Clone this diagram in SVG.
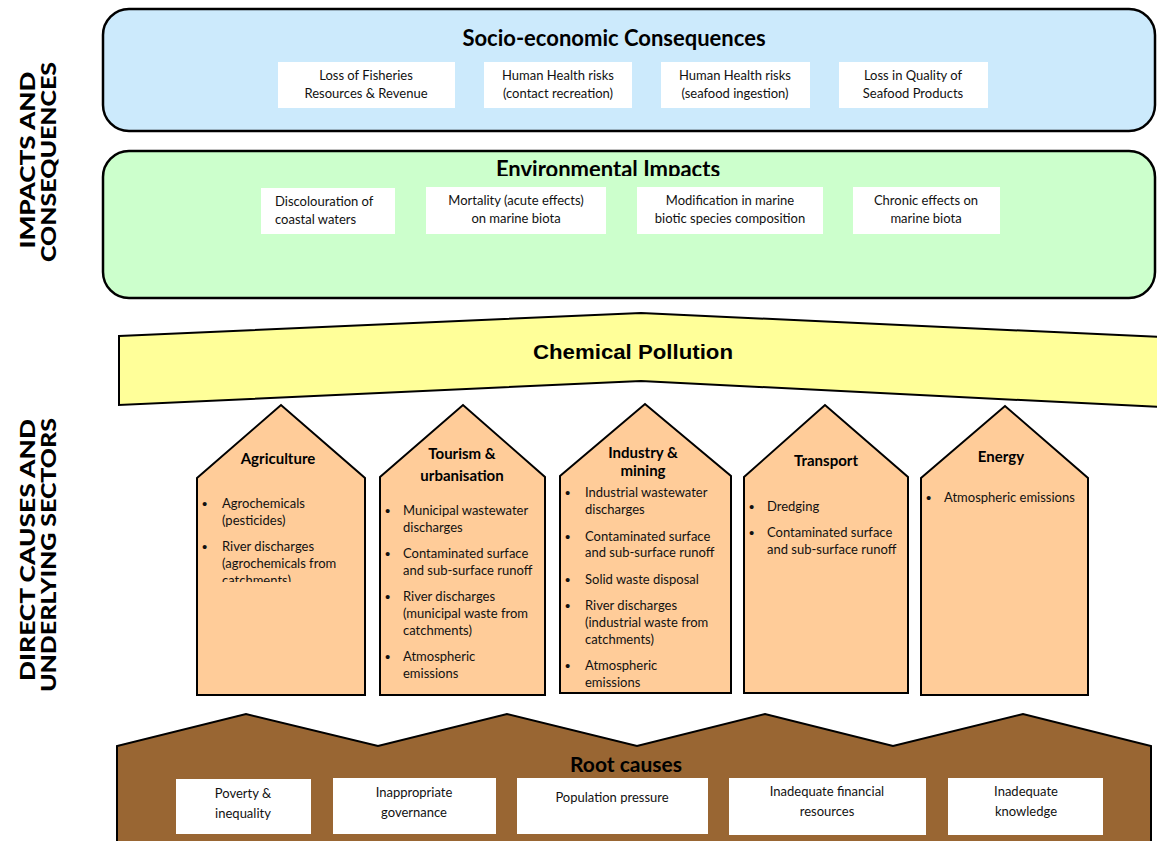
<svg xmlns="http://www.w3.org/2000/svg" width="1157" height="841" viewBox="0 0 1157 841">
<style>
.t{font-family:Lato,"Open Sans","Liberation Sans",sans-serif;font-size:13px;fill:#111}
.c{text-anchor:middle}
.h{font-family:Lato,"Open Sans","Liberation Sans",sans-serif;font-weight:bold;fill:#000;text-anchor:middle}
.side{font-family:Lato,"Liberation Sans",sans-serif;font-weight:900;font-size:21px;fill:#000;text-anchor:middle}
.wb{fill:#fff;stroke:none}
.sector{fill:#ffcc99;stroke:#000;stroke-width:2}
.bul{font-family:"Liberation Sans",sans-serif;font-size:15px;fill:#111}
</style>
<defs>
<clipPath id="clipEnv"><rect x="0" y="140" width="1157" height="36"/></clipPath>
<clipPath id="clipAgri"><rect x="190" y="480" width="180" height="102"/></clipPath>
</defs>

<g id="side-labels">
<text class="side" transform="translate(35,160) rotate(-90)" textLength="177" lengthAdjust="spacingAndGlyphs">IMPACTS AND</text>
<text class="side" transform="translate(56,162) rotate(-90)" textLength="200" lengthAdjust="spacingAndGlyphs">CONSEQUENCES</text>
<text class="side" transform="translate(35,550) rotate(-90)" textLength="262" lengthAdjust="spacingAndGlyphs">DIRECT CAUSES AND</text>
<text class="side" transform="translate(56,555) rotate(-90)" textLength="274" lengthAdjust="spacingAndGlyphs">UNDERLYING SECTORS</text>
</g>

<g id="socio-economic">
<rect x="103" y="9" width="1052" height="122" rx="26" ry="26" fill="#cceafc" stroke="#000" stroke-width="2.5"/>
<text class="h" x="614" y="46" font-size="22">Socio-economic Consequences</text>
<rect class="wb" x="278" y="62" width="177" height="46"/>
<text class="t c" x="366" y="80">Loss of Fisheries</text>
<text class="t c" x="366" y="98">Resources &amp; Revenue</text>
<rect class="wb" x="484" y="62" width="148" height="46"/>
<text class="t c" x="558" y="80">Human Health risks</text>
<text class="t c" x="558" y="98">(contact recreation)</text>
<rect class="wb" x="661" y="62" width="149" height="46"/>
<text class="t c" x="735" y="80">Human Health risks</text>
<text class="t c" x="735" y="98">(seafood ingestion)</text>
<rect class="wb" x="839" y="62" width="149" height="46"/>
<text class="t c" x="913" y="80">Loss in Quality of</text>
<text class="t c" x="913" y="98">Seafood Products</text>
</g>

<g id="environmental">
<rect x="103" y="151" width="1052" height="147" rx="26" ry="26" fill="#ccffcc" stroke="#000" stroke-width="2.5"/>
<text class="h" x="608" y="177" font-size="22" clip-path="url(#clipEnv)">Environmental Impacts</text>
<rect class="wb" x="261" y="188" width="134" height="46"/>
<text class="t" x="275" y="206">Discolouration of</text>
<text class="t" x="275" y="224">coastal waters</text>
<rect class="wb" x="426" y="187" width="180" height="47"/>
<text class="t c" x="516" y="205">Mortality (acute effects)</text>
<text class="t c" x="516" y="223">on marine biota</text>
<rect class="wb" x="637" y="187" width="186" height="47"/>
<text class="t c" x="730" y="205">Modification in marine</text>
<text class="t c" x="730" y="223">biotic species composition</text>
<rect class="wb" x="853" y="187" width="147" height="47"/>
<text class="t c" x="926" y="205">Chronic effects on</text>
<text class="t c" x="926" y="223">marine biota</text>
</g>

<g id="chemical-pollution">
<path d="M119,336 L641,313 L1160,337 L1160,407 L641,381 L119,405 Z" fill="#ffff99" stroke="#000" stroke-width="2"/>
<text x="633" y="359" font-family="'Liberation Sans',sans-serif" font-weight="bold" font-size="20" text-anchor="middle" textLength="200" lengthAdjust="spacingAndGlyphs">Chemical Pollution</text>
</g>

<g id="agriculture">
<path class="sector" d="M197,478 L281,405 L365,478 L365,695 L197,695 Z"/>
<text class="h" x="278" y="464" font-size="15">Agriculture</text>
<g clip-path="url(#clipAgri)">
<text class="bul" x="202" y="509">•</text>
<text class="t" x="222" y="508">Agrochemicals</text>
<text class="t" x="222" y="525">(pesticides)</text>
<text class="bul" x="202" y="552">•</text>
<text class="t" x="222" y="551">River discharges</text>
<text class="t" x="222" y="568">(agrochemicals from</text>
<text class="t" x="222" y="585">catchments)</text>
</g>
</g>

<g id="tourism">
<path class="sector" d="M380,477 L463,405 L545,477 L545,695 L380,695 Z"/>
<text class="h" x="462" y="459" font-size="15">Tourism &amp;</text>
<text class="h" x="462" y="481" font-size="15">urbanisation</text>
<text class="bul" x="385" y="516">•</text>
<text class="t" x="403" y="515">Municipal wastewater</text>
<text class="t" x="403" y="532">discharges</text>
<text class="bul" x="385" y="559">•</text>
<text class="t" x="403" y="558">Contaminated surface</text>
<text class="t" x="403" y="575">and sub-surface runoff</text>
<text class="bul" x="385" y="602">•</text>
<text class="t" x="403" y="601">River discharges</text>
<text class="t" x="403" y="618">(municipal waste from</text>
<text class="t" x="403" y="635">catchments)</text>
<text class="bul" x="385" y="662">•</text>
<text class="t" x="403" y="661">Atmospheric</text>
<text class="t" x="403" y="678">emissions</text>
</g>

<g id="industry">
<path class="sector" d="M560,476 L645,404 L731,476 L731,693 L560,693 Z"/>
<text class="h" x="643" y="458" font-size="15">Industry &amp;</text>
<text class="h" x="643" y="476" font-size="15">mining</text>
<text class="bul" x="565" y="498">•</text>
<text class="t" x="585" y="497">Industrial wastewater</text>
<text class="t" x="585" y="514">discharges</text>
<text class="bul" x="565" y="542">•</text>
<text class="t" x="585" y="541">Contaminated surface</text>
<text class="t" x="585" y="557">and sub-surface runoff</text>
<text class="bul" x="565" y="585">•</text>
<text class="t" x="585" y="584">Solid waste disposal</text>
<text class="bul" x="565" y="611">•</text>
<text class="t" x="585" y="610">River discharges</text>
<text class="t" x="585" y="627">(industrial waste from</text>
<text class="t" x="585" y="644">catchments)</text>
<text class="bul" x="565" y="671">•</text>
<text class="t" x="585" y="670">Atmospheric</text>
<text class="t" x="585" y="687">emissions</text>
</g>

<g id="transport">
<path class="sector" d="M744,477 L825,405 L908,477 L908,693 L744,693 Z"/>
<text class="h" x="826" y="466" font-size="15">Transport</text>
<text class="bul" x="749" y="512">•</text>
<text class="t" x="767" y="511">Dredging</text>
<text class="bul" x="749" y="538">•</text>
<text class="t" x="767" y="537">Contaminated surface</text>
<text class="t" x="767" y="554">and sub-surface runoff</text>
</g>

<g id="energy">
<path class="sector" d="M921,478 L1005,406 L1088,478 L1088,695 L921,695 Z"/>
<text class="h" x="1001" y="462" font-size="15">Energy</text>
<text class="bul" x="926" y="503">•</text>
<text class="t" x="944" y="502">Atmospheric emissions</text>
</g>

<g id="root-causes">
<path d="M117,846 L117,746 L246,714 L378,746 L507,714 L637,746 L765,714 L893,746 L1023,714 L1151,746 L1151,846 Z" fill="#996633" stroke="#000" stroke-width="2"/>
<text class="h" x="626" y="772" font-size="21">Root causes</text>
<rect class="wb" x="176" y="779" width="135" height="55"/>
<text class="t c" x="243" y="798">Poverty &amp;</text>
<text class="t c" x="243" y="818">inequality</text>
<rect class="wb" x="333" y="778" width="163" height="56"/>
<text class="t c" x="414" y="797">Inappropriate</text>
<text class="t c" x="414" y="817">governance</text>
<rect class="wb" x="517" y="778" width="191" height="56"/>
<text class="t c" x="612" y="802">Population pressure</text>
<rect class="wb" x="729" y="778" width="197" height="57"/>
<text class="t c" x="827" y="796">Inadequate financial</text>
<text class="t c" x="827" y="816">resources</text>
<rect class="wb" x="948" y="778" width="155" height="57"/>
<text class="t c" x="1026" y="796">Inadequate</text>
<text class="t c" x="1026" y="816">knowledge</text>
</g>
</svg>
